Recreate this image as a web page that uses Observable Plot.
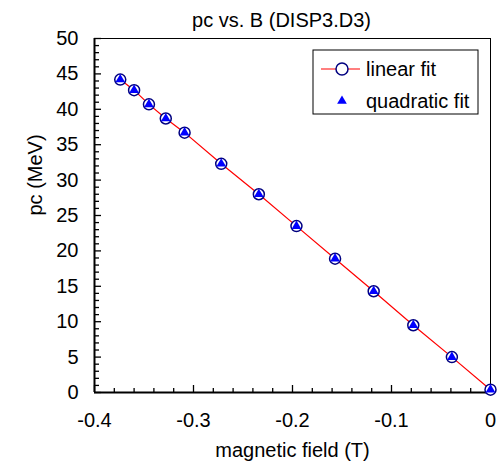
<!DOCTYPE html>
<html><head><meta charset="utf-8">
<script src="https://cdn.jsdelivr.net/npm/d3@7"></script>
<script src="https://cdn.jsdelivr.net/npm/@observablehq/plot@0.6"></script>
<style>
html,body{margin:0;padding:0;background:#fff;}
#chart svg{display:block;}
</style></head><body><div id="chart"></div>
<script>
const fieldT = [-0.374, -0.360, -0.345, -0.328, -0.309, -0.272, -0.234, -0.196, -0.157, -0.118, -0.078, -0.039, 0.0];
const linearPc = [44.2, 42.7, 40.7, 38.7, 36.7, 32.3, 28.0, 23.5, 18.9, 14.3, 9.5, 5.0, 0.4];
const quadraticPc = [44.2, 42.7, 40.7, 38.7, 36.7, 32.3, 28.0, 23.5, 18.9, 14.3, 9.5, 5.0, 0.4];
const xTicks = [-0.4, -0.3, -0.2, -0.1, 0];
const xMinorTicks = [-0.38,-0.36,-0.34,-0.32,-0.28,-0.26,-0.24,-0.22,-0.18,-0.16,-0.14,-0.12,-0.08,-0.06,-0.04,-0.02];
const yTicks = [0, 5, 10, 15, 20, 25, 30, 35, 40, 45, 50];
const yMinorTicks = d3.range(0, 51).filter(v => v % 5 !== 0);
const title = "pc vs. B (DISP3.D3)";
const xLabel = "magnetic field (T)";
const yLabel = "pc (MeV)";
const seriesNames = ["linear fit", "quadratic fit"];

(function () {
const font = "'Liberation Sans', Arial, sans-serif";
const fs = 20;
const linear = fieldT.map((b, i) => ({b, pc: linearPc[i]}));
const quad = fieldT.map((b, i) => ({b, pc: quadraticPc[i]}));
const triR = 3.6;

const chart = Plot.plot({
  width: 501, height: 463,
  marginLeft: 94, marginRight: 11, marginTop: 38, marginBottom: 71,
  style: {fontFamily: font, fontSize: fs + "px", color: "#000", background: "#fff", overflow: "visible"},
  x: {domain: [-0.4, 0]},
  y: {domain: [0, 50]},
  marks: [
    Plot.frame({stroke: "#000", strokeWidth: 1}),
    Plot.ruleX([xTicks[0]], {stroke: "#000", strokeWidth: 2}),
    Plot.ruleY([yTicks[0]], {stroke: "#000", strokeWidth: 2}),
    Plot.axisX({ticks: xMinorTicks, tickSize: -4, tickFormat: () => "", label: null, strokeWidth: 1.3}),
    Plot.axisX({ticks: xTicks, tickSize: -7, tickFormat: () => "", label: null, strokeWidth: 1.3}),
    Plot.axisX({ticks: xTicks, tickSize: 0, tickPadding: 20, tickFormat: d => String(d), label: null, fontSize: fs}),
    Plot.axisY({ticks: yMinorTicks, tickSize: -5, tickFormat: () => "", label: null, strokeWidth: 1.3}),
    Plot.axisY({ticks: yTicks, tickSize: -7, tickFormat: () => "", label: null, strokeWidth: 1.3}),
    Plot.axisY({ticks: yTicks, tickSize: 0, tickPadding: 16, tickFormat: d => String(d), label: null, fontSize: fs}),
    Plot.text([title], {frameAnchor: "top", dx: -11, dy: -18, fontSize: fs, lineAnchor: "middle"}),
    Plot.text([xLabel], {frameAnchor: "bottom", dy: 58, fontSize: fs, lineAnchor: "middle"}),
    Plot.text([yLabel], {frameAnchor: "left", dx: -59, rotate: -90, fontSize: fs, lineAnchor: "middle"}),
    Plot.line(linear, {x: "b", y: "pc", stroke: "#ff0000", strokeWidth: 1.2}),
    Plot.dot(linear, {x: "b", y: "pc", r: 5.5, stroke: "#000080", strokeWidth: 1.5, fill: "#fff"}),
    Plot.dot(quad, {x: "b", y: "pc", r: triR, symbol: "triangle", fill: "#0000ff", stroke: "none"})
  ]
});
document.getElementById("chart").appendChild(chart);

// legend
const NS = "http://www.w3.org/2000/svg";
const xr = chart.scale("x").range, yr = chart.scale("y").range;
const frameRight = Math.max(...xr), frameTop = Math.min(...yr);
const g = document.createElementNS(NS, "g");
g.setAttribute("font-family", font);
g.setAttribute("font-size", fs);
g.setAttribute("text-anchor", "start");
chart.appendChild(g);
function el(tag, attrs) {
  const e = document.createElementNS(NS, tag);
  for (const k in attrs) e.setAttribute(k, attrs[k]);
  g.appendChild(e);
  return e;
}
const bx = frameRight - 177, by = frameTop + 12, bw = 165, bh = 64;
el("rect", {x: bx, y: by, width: bw, height: bh, fill: "#ffffff", stroke: "#000000", "stroke-width": 1});
const rowY = [by + 19, by + 51];
const symX = bx + 29;
el("line", {x1: bx + 8, x2: bx + 47, y1: rowY[0], y2: rowY[0], stroke: "#ff0000", "stroke-width": 1.2});
el("circle", {cx: symX, cy: rowY[0], r: 6, fill: "#ffffff", stroke: "#000080", "stroke-width": 1.5});
el("path", {d: d3.symbol(d3.symbolTriangle, Math.PI * triR * triR)(), transform: `translate(${symX},${rowY[1]})`, fill: "#0000ff"});
seriesNames.forEach((n, i) => {
  const t = el("text", {x: bx + 53, y: rowY[i], dy: "0.35em", fill: "#000"});
  t.textContent = n;
});
})();
</script></body></html>
